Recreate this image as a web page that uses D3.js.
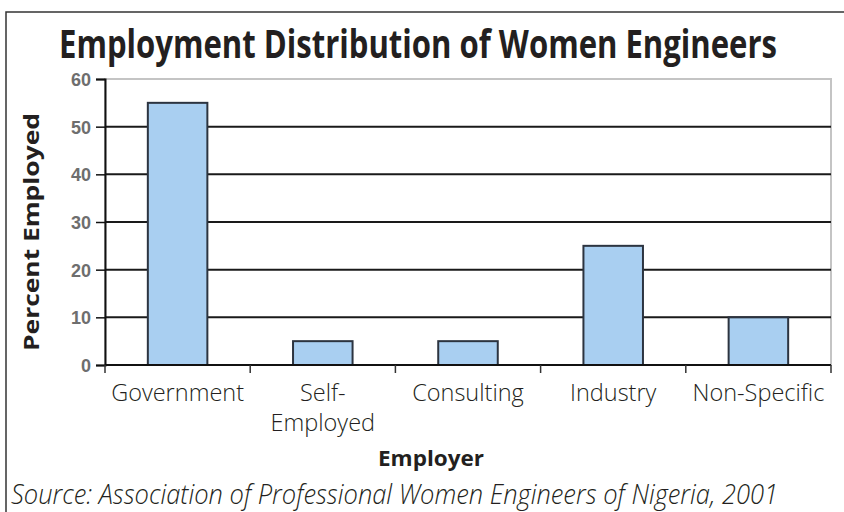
<!DOCTYPE html>
<html><head><meta charset="utf-8">
<script src="https://cdn.jsdelivr.net/npm/d3@7/dist/d3.min.js"></script>
<style>body{margin:0;background:#fff}svg{display:block}</style>
</head><body>
<svg id="c" width="844" height="512"></svg>
<script>
const categories = ["Government", "Self-Employed", "Consulting", "Industry", "Non-Specific"];
const categoryLines = [["Government"], ["Self-", "Employed"], ["Consulting"], ["Industry"], ["Non-Specific"]];
const values = [55, 5, 5, 25, 10];
const yTicks = [0, 10, 20, 30, 40, 50, 60];
const titleText = "Employment Distribution of Women Engineers";
const yTitle = "Percent Employed";
const xTitle = "Employer";
const sourceText = "Source: Association of Professional Women Engineers of Nigeria, 2001";

const svg = d3.select("#c");
const L = 105, R = 831, T = 79, B = 365;
const x = d3.scaleBand().domain(categories).range([L, R]).padding(0);
const y = d3.scaleLinear().domain([0, 60]).range([B, T]);

// outer frame
svg.append("path").attr("d", "M6,512 V12 H844").attr("fill", "none").attr("stroke", "#333").attr("stroke-width", 1.5);

// title (stretched vertically to mimic a condensed bold face)
svg.append("text").attr("transform", "translate(418,58) scale(1,1.18)").attr("text-anchor", "middle")
  .attr("font-family", "Open Sans").attr("font-weight", 700).attr("font-size", 33)
  .attr("fill", "#231f20").attr("textLength", 718).attr("lengthAdjust", "spacingAndGlyphs")
  .text(titleText);

// plot border
svg.append("rect").attr("x", L).attr("y", T).attr("width", R - L).attr("height", B - T)
  .attr("fill", "none").attr("stroke", "#c4c4c4").attr("stroke-width", 2);

// gridlines
svg.append("g").selectAll("line").data(yTicks.filter(t => t > 0 && t < 60)).join("line")
  .attr("x1", L).attr("x2", R).attr("y1", d => y(d)).attr("y2", d => y(d))
  .attr("stroke", "#1a1a1a").attr("stroke-width", 2);

// bars
const bw = x.bandwidth() * 0.41;
svg.append("g").selectAll("rect").data(values).join("rect")
  .attr("x", (d, i) => x(categories[i]) + (x.bandwidth() - bw) / 2)
  .attr("y", d => y(d)).attr("width", bw).attr("height", d => y(0) - y(d))
  .attr("fill", "#a9cff1").attr("stroke", "#2c3440").attr("stroke-width", 2);

// y axis
const yAxis = d3.axisLeft(y).tickValues(yTicks).tickSize(9).tickPadding(5).tickFormat(d3.format("d"));
const ya = svg.append("g").attr("transform", `translate(${L},0)`).call(yAxis);
ya.select(".domain").attr("stroke", "#111").attr("stroke-width", 2);
ya.selectAll(".tick line").attr("stroke", "#111").attr("stroke-width", 1.5);
ya.selectAll(".tick text").attr("font-family", "Liberation Sans").attr("font-weight", 700)
  .attr("font-size", 18).attr("fill", "#6e6e6e").attr("dy", "0.36em");

// x axis baseline and tick marks at band boundaries
svg.append("line").attr("x1", L).attr("x2", R).attr("y1", B).attr("y2", B).attr("stroke", "#111").attr("stroke-width", 2);
const bounds = categories.map(c => x(c)).concat([R]);
svg.append("g").selectAll("line").data(bounds).join("line")
  .attr("x1", d => d).attr("x2", d => d).attr("y1", B).attr("y2", B + 8)
  .attr("stroke", "#333").attr("stroke-width", 1.5);

// x tick labels
const xl = svg.append("g").attr("font-family", "Open Sans").attr("font-weight", 300)
  .attr("font-size", 23.5).attr("fill", "#231f20").attr("text-anchor", "middle");
categoryLines.forEach((lines, i) => {
  lines.forEach((ln, j) => {
    xl.append("text").attr("x", x(categories[i]) + x.bandwidth() / 2).attr("y", 401 + j * 30).text(ln);
  });
});

// axis titles
svg.append("text").attr("transform", "translate(39,232) rotate(-90)").attr("text-anchor", "middle")
  .attr("font-family", "Open Sans").attr("font-weight", 700).attr("font-size", 22).attr("fill", "#231f20")
  .attr("textLength", 238).attr("lengthAdjust", "spacingAndGlyphs").text(yTitle);
svg.append("text").attr("x", 431).attr("y", 466).attr("text-anchor", "middle")
  .attr("font-family", "Open Sans").attr("font-weight", 700).attr("font-size", 22).attr("fill", "#231f20")
  .attr("textLength", 106).attr("lengthAdjust", "spacingAndGlyphs").text(xTitle);

// source
svg.append("text").attr("x", 11).attr("y", 504)
  .attr("font-family", "Open Sans").attr("font-style", "italic").attr("font-weight", 300).attr("font-size", 27)
  .attr("fill", "#231f20").attr("textLength", 767).attr("lengthAdjust", "spacingAndGlyphs").text(sourceText);
</script>
</body></html>
